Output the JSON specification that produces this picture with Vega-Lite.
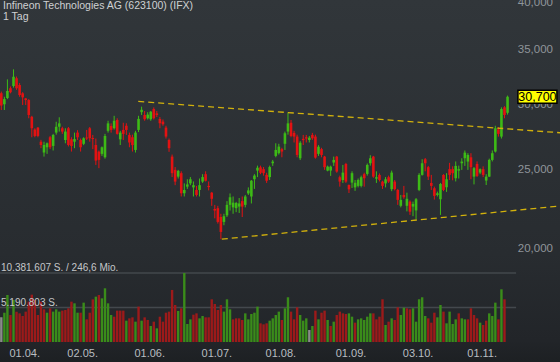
{
"$schema":"https://vega.github.io/schema/vega-lite/v6.json",
"width":560,"height":362,"autosize":{"type":"none"},"padding":0,
"background":"#1f2226",
"config":{"view":{"stroke":null},"font":"Liberation Sans","scale":{"continuousPadding":0},"locale":{"number":{"decimal":",","thousands":".","grouping":[3],"currency":[""," €"]}}},
"title":{"text":"Infineon Technologies AG (623100) (IFX)","subtitle":"1 Tag","anchor":"start","frame":"group","offset":-25.5,"dx":3,"font":"Liberation Sans","fontSize":10.5,"fontWeight":"normal","color":"#cfd1d3","subtitleFont":"Liberation Sans","subtitleFontSize":10.5,"subtitleColor":"#cfd1d3","subtitlePadding":0.5},
"datasets":{
"c":[
{"i":0,"O":31.00,"H":31.15,"L":29.58,"C":29.95,"V":3710000,"vd":"n"},
{"i":1,"O":30.06,"H":30.70,"L":29.58,"C":30.50,"V":4410000,"vd":"u"},
{"i":2,"O":30.60,"H":32.24,"L":30.50,"C":31.20,"V":7070000,"vd":"u"},
{"i":3,"O":31.44,"H":31.60,"L":31.00,"C":31.09,"V":4060000,"vd":"d"},
{"i":4,"O":31.64,"H":33.16,"L":31.50,"C":32.48,"V":6320000,"vd":"u"},
{"i":5,"O":32.34,"H":32.50,"L":31.30,"C":31.44,"V":4570000,"vd":"d"},
{"i":6,"O":31.73,"H":31.90,"L":30.70,"C":30.85,"V":4310000,"vd":"d"},
{"i":7,"O":31.00,"H":31.10,"L":30.00,"C":30.65,"V":3910000,"vd":"d"},
{"i":8,"O":30.56,"H":30.60,"L":30.00,"C":30.42,"V":4570000,"vd":"d"},
{"i":9,"O":30.42,"H":30.50,"L":28.90,"C":29.17,"V":6070000,"vd":"d"},
{"i":10,"O":29.03,"H":29.10,"L":27.40,"C":28.10,"V":7120000,"vd":"d"},
{"i":11,"O":28.00,"H":28.10,"L":27.40,"C":27.50,"V":6320000,"vd":"d"},
{"i":12,"O":28.15,"H":28.20,"L":27.40,"C":27.50,"V":4060000,"vd":"d"},
{"i":13,"O":27.06,"H":27.20,"L":26.57,"C":26.81,"V":6070000,"vd":"d"},
{"i":14,"O":26.25,"H":27.06,"L":25.95,"C":26.81,"V":4920000,"vd":"d"},
{"i":15,"O":26.64,"H":27.00,"L":26.15,"C":26.94,"V":4410000,"vd":"u"},
{"i":16,"O":27.40,"H":27.50,"L":26.50,"C":26.64,"V":5070000,"vd":"d"},
{"i":17,"O":26.74,"H":27.66,"L":26.40,"C":27.58,"V":4570000,"vd":"u"},
{"i":18,"O":27.76,"H":28.62,"L":27.60,"C":28.22,"V":4920000,"vd":"u"},
{"i":19,"O":28.22,"H":28.98,"L":27.84,"C":28.49,"V":4570000,"vd":"u"},
{"i":20,"O":28.10,"H":28.22,"L":27.66,"C":27.84,"V":4720000,"vd":"d"},
{"i":21,"O":27.19,"H":28.10,"L":26.94,"C":27.84,"V":4820000,"vd":"d"},
{"i":22,"O":28.10,"H":28.20,"L":26.70,"C":26.81,"V":5070000,"vd":"d"},
{"i":23,"O":27.24,"H":27.40,"L":26.32,"C":26.74,"V":6070000,"vd":"d"},
{"i":24,"O":27.06,"H":27.76,"L":26.57,"C":27.26,"V":5820000,"vd":"u"},
{"i":25,"O":27.76,"H":27.95,"L":27.19,"C":27.40,"V":4410000,"vd":"u"},
{"i":26,"O":27.19,"H":27.30,"L":26.32,"C":26.64,"V":4410000,"vd":"d"},
{"i":27,"O":26.90,"H":27.40,"L":26.80,"C":27.32,"V":5920000,"vd":"u"},
{"i":28,"O":27.38,"H":27.97,"L":27.19,"C":27.30,"V":3410000,"vd":"d"},
{"i":29,"O":28.10,"H":28.20,"L":27.06,"C":27.32,"V":4410000,"vd":"d"},
{"i":30,"O":27.34,"H":27.58,"L":26.50,"C":27.26,"V":6420000,"vd":"d"},
{"i":31,"O":26.81,"H":27.30,"L":25.35,"C":25.66,"V":6820000,"vd":"u"},
{"i":32,"O":26.32,"H":26.40,"L":25.12,"C":25.71,"V":7070000,"vd":"d"},
{"i":33,"O":26.15,"H":26.70,"L":26.00,"C":26.64,"V":6570000,"vd":"u"},
{"i":34,"O":25.90,"H":27.66,"L":25.80,"C":27.50,"V":8080000,"vd":"u"},
{"i":35,"O":27.90,"H":28.70,"L":27.76,"C":28.49,"V":5820000,"vd":"u"},
{"i":36,"O":28.28,"H":28.49,"L":27.76,"C":27.97,"V":4060000,"vd":"u"},
{"i":37,"O":28.10,"H":29.10,"L":28.00,"C":28.70,"V":3810000,"vd":"d"},
{"i":38,"O":28.76,"H":28.90,"L":27.60,"C":27.66,"V":4720000,"vd":"d"},
{"i":39,"O":27.24,"H":27.90,"L":26.81,"C":27.76,"V":4720000,"vd":"d"},
{"i":40,"O":27.97,"H":28.54,"L":27.19,"C":27.66,"V":4720000,"vd":"d"},
{"i":41,"O":28.30,"H":28.50,"L":27.58,"C":27.97,"V":3210000,"vd":"u"},
{"i":42,"O":27.58,"H":27.76,"L":26.64,"C":27.00,"V":3560000,"vd":"d"},
{"i":43,"O":27.40,"H":27.60,"L":26.32,"C":26.80,"V":3710000,"vd":"d"},
{"i":44,"O":26.44,"H":27.90,"L":26.25,"C":27.76,"V":3060000,"vd":"u"},
{"i":45,"O":27.97,"H":29.10,"L":27.80,"C":28.85,"V":5320000,"vd":"d"},
{"i":46,"O":29.40,"H":29.86,"L":29.17,"C":29.60,"V":3210000,"vd":"u"},
{"i":47,"O":29.17,"H":29.50,"L":28.70,"C":28.82,"V":3710000,"vd":"d"},
{"i":48,"O":28.90,"H":29.40,"L":28.80,"C":29.20,"V":3310000,"vd":"d"},
{"i":49,"O":28.82,"H":29.50,"L":28.70,"C":29.44,"V":2410000,"vd":"u"},
{"i":50,"O":29.66,"H":29.80,"L":28.80,"C":28.90,"V":3060000,"vd":"d"},
{"i":51,"O":29.30,"H":29.50,"L":29.00,"C":29.17,"V":2060000,"vd":"u"},
{"i":52,"O":28.84,"H":29.00,"L":28.10,"C":28.50,"V":3810000,"vd":"d"},
{"i":53,"O":28.63,"H":28.80,"L":28.30,"C":28.42,"V":3060000,"vd":"d"},
{"i":54,"O":28.15,"H":28.30,"L":27.30,"C":27.45,"V":4410000,"vd":"d"},
{"i":55,"O":27.19,"H":27.30,"L":26.30,"C":26.57,"V":4570000,"vd":"d"},
{"i":56,"O":25.95,"H":26.10,"L":24.50,"C":24.77,"V":7830000,"vd":"d"},
{"i":57,"O":25.00,"H":25.20,"L":23.95,"C":24.19,"V":5570000,"vd":"d"},
{"i":58,"O":24.53,"H":25.00,"L":24.40,"C":24.93,"V":4670000,"vd":"u"},
{"i":59,"O":24.77,"H":24.90,"L":23.20,"C":23.41,"V":5070000,"vd":"d"},
{"i":60,"O":23.41,"H":24.07,"L":23.20,"C":23.63,"V":10381607,"vd":"u"},
{"i":61,"O":23.85,"H":24.35,"L":23.70,"C":24.00,"V":2710000,"vd":"u"},
{"i":62,"O":24.07,"H":24.50,"L":23.95,"C":24.35,"V":3410000,"vd":"u"},
{"i":63,"O":23.80,"H":24.20,"L":23.20,"C":23.95,"V":4110000,"vd":"d"},
{"i":64,"O":23.63,"H":23.90,"L":23.20,"C":23.30,"V":4310000,"vd":"d"},
{"i":65,"O":23.63,"H":24.40,"L":23.20,"C":23.95,"V":3560000,"vd":"u"},
{"i":66,"O":24.19,"H":24.70,"L":24.10,"C":24.50,"V":3910000,"vd":"u"},
{"i":67,"O":24.70,"H":24.90,"L":24.20,"C":24.25,"V":3710000,"vd":"d"},
{"i":68,"O":23.90,"H":24.20,"L":23.60,"C":23.82,"V":3710000,"vd":"d"},
{"i":69,"O":23.45,"H":23.50,"L":22.60,"C":23.05,"V":6420000,"vd":"d"},
{"i":70,"O":22.40,"H":22.66,"L":21.82,"C":22.30,"V":5720000,"vd":"d"},
{"i":71,"O":22.45,"H":22.60,"L":21.50,"C":21.60,"V":4820000,"vd":"d"},
{"i":72,"O":21.90,"H":22.10,"L":20.58,"C":21.00,"V":5570000,"vd":"d"},
{"i":73,"O":21.60,"H":22.10,"L":21.40,"C":21.95,"V":4570000,"vd":"u"},
{"i":74,"O":22.00,"H":22.90,"L":21.90,"C":22.66,"V":6420000,"vd":"u"},
{"i":75,"O":22.66,"H":23.40,"L":22.30,"C":23.15,"V":4920000,"vd":"u"},
{"i":76,"O":22.50,"H":23.20,"L":22.10,"C":22.80,"V":3410000,"vd":"d"},
{"i":77,"O":22.45,"H":22.85,"L":22.20,"C":22.78,"V":3560000,"vd":"d"},
{"i":78,"O":22.55,"H":23.10,"L":22.15,"C":22.75,"V":3560000,"vd":"d"},
{"i":79,"O":22.90,"H":23.20,"L":21.90,"C":22.55,"V":3310000,"vd":"d"},
{"i":80,"O":22.66,"H":23.30,"L":22.50,"C":23.20,"V":4310000,"vd":"u"},
{"i":81,"O":23.40,"H":23.80,"L":23.30,"C":23.60,"V":3410000,"vd":"u"},
{"i":82,"O":23.20,"H":24.30,"L":22.75,"C":24.25,"V":4210000,"vd":"u"},
{"i":83,"O":24.35,"H":24.70,"L":23.70,"C":24.60,"V":4410000,"vd":"u"},
{"i":84,"O":24.95,"H":25.30,"L":24.50,"C":25.15,"V":5320000,"vd":"u"},
{"i":85,"O":25.18,"H":25.30,"L":24.70,"C":24.80,"V":2810000,"vd":"d"},
{"i":86,"O":25.05,"H":25.20,"L":24.60,"C":24.77,"V":2660000,"vd":"d"},
{"i":87,"O":24.65,"H":24.80,"L":24.10,"C":24.25,"V":2810000,"vd":"d"},
{"i":88,"O":24.50,"H":25.30,"L":24.30,"C":25.20,"V":3210000,"vd":"u"},
{"i":89,"O":25.47,"H":25.71,"L":25.28,"C":25.59,"V":3560000,"vd":"u"},
{"i":90,"O":26.00,"H":26.94,"L":25.90,"C":26.44,"V":4060000,"vd":"u"},
{"i":91,"O":26.20,"H":26.90,"L":26.10,"C":26.69,"V":4570000,"vd":"u"},
{"i":92,"O":26.50,"H":26.60,"L":25.90,"C":26.32,"V":3310000,"vd":"d"},
{"i":93,"O":26.90,"H":27.84,"L":26.44,"C":27.71,"V":5070000,"vd":"u"},
{"i":94,"O":27.84,"H":29.36,"L":27.60,"C":28.49,"V":6730000,"vd":"u"},
{"i":95,"O":28.54,"H":28.76,"L":27.40,"C":27.50,"V":4570000,"vd":"d"},
{"i":96,"O":27.74,"H":27.90,"L":27.00,"C":27.45,"V":3410000,"vd":"d"},
{"i":97,"O":27.45,"H":27.60,"L":25.90,"C":26.07,"V":5220000,"vd":"d"},
{"i":98,"O":25.83,"H":27.10,"L":25.70,"C":26.98,"V":4060000,"vd":"u"},
{"i":99,"O":27.28,"H":27.58,"L":26.81,"C":27.18,"V":3210000,"vd":"u"},
{"i":100,"O":27.40,"H":27.58,"L":27.00,"C":27.30,"V":3560000,"vd":"u"},
{"i":101,"O":27.19,"H":27.50,"L":27.00,"C":27.37,"V":1810000,"vd":"n"},
{"i":102,"O":27.58,"H":27.74,"L":27.20,"C":27.32,"V":2410000,"vd":"u"},
{"i":103,"O":27.45,"H":27.60,"L":25.80,"C":25.88,"V":4720000,"vd":"d"},
{"i":104,"O":26.15,"H":26.80,"L":26.00,"C":26.68,"V":3410000,"vd":"u"},
{"i":105,"O":26.50,"H":26.60,"L":25.90,"C":26.07,"V":4410000,"vd":"d"},
{"i":106,"O":25.95,"H":26.00,"L":25.00,"C":25.19,"V":4720000,"vd":"d"},
{"i":107,"O":24.95,"H":25.30,"L":24.90,"C":25.23,"V":3310000,"vd":"u"},
{"i":108,"O":24.95,"H":25.30,"L":24.58,"C":25.23,"V":2410000,"vd":"d"},
{"i":109,"O":25.52,"H":25.95,"L":25.28,"C":25.71,"V":3060000,"vd":"u"},
{"i":110,"O":25.95,"H":26.00,"L":24.80,"C":24.88,"V":4060000,"vd":"d"},
{"i":111,"O":24.49,"H":24.60,"L":23.85,"C":24.19,"V":4570000,"vd":"d"},
{"i":112,"O":24.30,"H":25.35,"L":24.10,"C":24.81,"V":4310000,"vd":"d"},
{"i":113,"O":25.42,"H":25.50,"L":24.10,"C":24.19,"V":4210000,"vd":"d"},
{"i":114,"O":23.96,"H":24.00,"L":23.43,"C":23.67,"V":4310000,"vd":"u"},
{"i":115,"O":24.12,"H":24.90,"L":23.76,"C":24.77,"V":3810000,"vd":"u"},
{"i":116,"O":23.80,"H":24.30,"L":23.57,"C":24.11,"V":2910000,"vd":"d"},
{"i":117,"O":23.90,"H":24.40,"L":23.80,"C":24.30,"V":3410000,"vd":"u"},
{"i":118,"O":23.90,"H":24.60,"L":23.80,"C":24.49,"V":3560000,"vd":"u"},
{"i":119,"O":24.70,"H":24.80,"L":23.85,"C":24.42,"V":3310000,"vd":"u"},
{"i":120,"O":24.72,"H":25.45,"L":24.60,"C":25.35,"V":3810000,"vd":"u"},
{"i":121,"O":25.47,"H":26.05,"L":25.30,"C":25.83,"V":4310000,"vd":"u"},
{"i":122,"O":25.95,"H":26.00,"L":24.45,"C":24.53,"V":4310000,"vd":"d"},
{"i":123,"O":24.39,"H":24.90,"L":24.10,"C":24.49,"V":3410000,"vd":"d"},
{"i":124,"O":24.65,"H":24.75,"L":24.20,"C":24.30,"V":3810000,"vd":"d"},
{"i":125,"O":24.19,"H":24.25,"L":23.70,"C":23.90,"V":6430000,"vd":"d"},
{"i":126,"O":24.07,"H":24.50,"L":23.80,"C":24.35,"V":2560000,"vd":"u"},
{"i":127,"O":24.49,"H":24.60,"L":24.10,"C":24.19,"V":3060000,"vd":"d"},
{"i":128,"O":23.68,"H":24.95,"L":23.55,"C":24.81,"V":3560000,"vd":"u"},
{"i":129,"O":24.19,"H":24.30,"L":23.60,"C":23.68,"V":3310000,"vd":"d"},
{"i":130,"O":23.63,"H":23.70,"L":22.66,"C":22.98,"V":5220000,"vd":"d"},
{"i":131,"O":22.60,"H":23.30,"L":22.50,"C":22.98,"V":4060000,"vd":"u"},
{"i":132,"O":23.30,"H":23.90,"L":23.05,"C":23.15,"V":5170000,"vd":"u"},
{"i":133,"O":22.60,"H":23.45,"L":22.25,"C":23.05,"V":5070000,"vd":"d"},
{"i":134,"O":22.87,"H":22.95,"L":22.03,"C":22.23,"V":4920000,"vd":"d"},
{"i":135,"O":22.55,"H":22.87,"L":21.95,"C":22.72,"V":5070000,"vd":"u"},
{"i":136,"O":22.31,"H":23.10,"L":21.77,"C":23.02,"V":3060000,"vd":"u"},
{"i":137,"O":23.63,"H":24.77,"L":23.55,"C":24.65,"V":6430000,"vd":"u"},
{"i":138,"O":24.65,"H":25.76,"L":24.60,"C":25.47,"V":6730000,"vd":"u"},
{"i":139,"O":25.76,"H":25.85,"L":24.90,"C":25.47,"V":3910000,"vd":"u"},
{"i":140,"O":25.19,"H":25.28,"L":24.30,"C":24.53,"V":3560000,"vd":"d"},
{"i":141,"O":24.10,"H":24.65,"L":23.63,"C":23.90,"V":2910000,"vd":"d"},
{"i":142,"O":23.74,"H":23.85,"L":23.00,"C":23.24,"V":4410000,"vd":"d"},
{"i":143,"O":23.30,"H":23.52,"L":23.20,"C":23.41,"V":3710000,"vd":"u"},
{"i":144,"O":23.02,"H":24.10,"L":22.03,"C":24.03,"V":5570000,"vd":"u"},
{"i":145,"O":24.65,"H":24.70,"L":23.55,"C":23.63,"V":4570000,"vd":"d"},
{"i":146,"O":23.81,"H":24.77,"L":23.50,"C":24.35,"V":2810000,"vd":"u"},
{"i":147,"O":25.05,"H":25.50,"L":24.30,"C":24.65,"V":4570000,"vd":"u"},
{"i":148,"O":25.05,"H":25.25,"L":24.28,"C":24.77,"V":2710000,"vd":"u"},
{"i":149,"O":24.42,"H":25.60,"L":24.20,"C":25.28,"V":3410000,"vd":"u"},
{"i":150,"O":24.95,"H":25.30,"L":24.40,"C":25.05,"V":4310000,"vd":"d"},
{"i":151,"O":25.47,"H":25.83,"L":25.00,"C":25.59,"V":3560000,"vd":"u"},
{"i":152,"O":25.83,"H":26.40,"L":25.28,"C":26.24,"V":3410000,"vd":"u"},
{"i":153,"O":25.59,"H":26.20,"L":25.00,"C":26.07,"V":3410000,"vd":"d"},
{"i":154,"O":25.90,"H":26.20,"L":24.35,"C":25.19,"V":5070000,"vd":"d"},
{"i":155,"O":24.53,"H":25.20,"L":24.00,"C":25.12,"V":4060000,"vd":"d"},
{"i":156,"O":25.42,"H":25.60,"L":24.50,"C":24.58,"V":3560000,"vd":"d"},
{"i":157,"O":24.81,"H":25.10,"L":24.70,"C":25.05,"V":2910000,"vd":"u"},
{"i":158,"O":25.05,"H":25.25,"L":24.50,"C":24.65,"V":2560000,"vd":"d"},
{"i":159,"O":24.26,"H":24.70,"L":23.96,"C":24.53,"V":3210000,"vd":"d"},
{"i":160,"O":24.53,"H":25.80,"L":24.50,"C":25.71,"V":4310000,"vd":"u"},
{"i":161,"O":25.71,"H":26.40,"L":25.60,"C":26.20,"V":3910000,"vd":"u"},
{"i":162,"O":26.32,"H":28.30,"L":26.25,"C":28.10,"V":5920000,"vd":"u"},
{"i":163,"O":28.02,"H":28.20,"L":27.45,"C":27.66,"V":3410000,"vd":"d"},
{"i":164,"O":27.45,"H":29.80,"L":27.30,"C":29.66,"V":7930000,"vd":"u"},
{"i":165,"O":29.80,"H":29.90,"L":28.90,"C":29.17,"V":6430000,"vd":"d"},
{"i":166,"O":29.35,"H":30.80,"L":29.20,"C":30.70,"V":null,"vd":"u"}
],
"trend":[
{"i":44.9,"p":30.30,"g":"a"},{"i":183.2,"p":27.75,"g":"a"},
{"i":72.3,"p":20.58,"g":"b"},{"i":183.2,"p":22.59,"g":"b"}
],
"pticks":[{"p":20},{"p":25},{"p":30},{"p":35},{"p":40}],
"dates":[{"i":8,"t":"01.04."},{"i":27,"t":"02.05."},{"i":49,"t":"01.06."},{"i":71,"t":"01.07."},{"i":92,"t":"01.08."},{"i":115,"t":"01.09."},{"i":137,"t":"03.10."},{"i":158,"t":"01.11."}],
"grid":[{"v":10381607,"t":"10.381.607 S. / 246,6 Mio."},{"v":5190803,"t":"5.190.803 S."}]
},
"data":{"name":"c"},
"layer":[
{"data":{"values":[{}]},"mark":{"type":"rect","fill":{"gradient":"linear","x1":0,"y1":0,"x2":0,"y2":1,"stops":[{"offset":0,"color":"#31363a"},{"offset":0.7,"color":"#282c30"},{"offset":0.94,"color":"#222529"},{"offset":1,"color":"#1d2023"}]}},"encoding":{}},
{"layer":[
 {"mark":{"type":"rule","strokeWidth":1},
  "encoding":{
   "x":{"field":"i","type":"quantitative","scale":{"domain":[-0.43,183.2],"nice":false,"zero":false,"padding":0},"axis":null},
   "y":{"field":"L","type":"quantitative","scale":{"type":"log","domain":[19.3,40.29],"range":[262,0],"nice":false,"zero":false,"padding":0},"axis":null},
   "y2":{"field":"H"},
   "color":{"condition":{"test":"datum.C >= datum.O","value":"#3dba16"},"value":"#e31212"}}},
 {"mark":{"type":"bar","size":2.6},
  "encoding":{
   "x":{"field":"i","type":"quantitative","scale":{"domain":[-0.43,183.2],"nice":false,"zero":false,"padding":0},"axis":null},
   "y":{"field":"O","type":"quantitative","axis":null},
   "y2":{"field":"C"},
   "color":{"condition":{"test":"datum.C >= datum.O","value":"#3dba16"},"value":"#e31212"}}},
 {"data":{"name":"trend"},"mark":{"type":"line","strokeDash":[6,4],"strokeWidth":1.3,"color":"#d2b10c","clip":false},
  "encoding":{
   "x":{"field":"i","type":"quantitative","scale":{"domain":[-0.43,183.2],"nice":false,"zero":false,"padding":0},"axis":null},
   "y":{"field":"p","type":"quantitative","axis":null},
   "detail":{"field":"g"}}},
 {"data":{"name":"pticks"},"mark":{"type":"text","align":"right","baseline":"middle","dx":-7,"fontSize":11.5,"font":"Liberation Sans","color":"#8f959a"},
  "encoding":{
   "x":{"datum":183.2,"type":"quantitative","scale":{"domain":[-0.43,183.2],"nice":false,"zero":false,"padding":0},"axis":null},
   "y":{"field":"p","type":"quantitative","axis":null},
   "text":{"field":"p","type":"quantitative","format":".3f"}}},
 {"transform":[{"filter":"datum.i == 166"}],
  "mark":{"type":"point","shape":"M-1,-0.333H1V0.333H-1Z","size":1521,"filled":true,"fill":"#ffff00","stroke":"#000000","strokeWidth":1.5,"opacity":1},
  "encoding":{"x":{"datum":175.8,"type":"quantitative","scale":{"domain":[-0.43,183.2],"nice":false,"zero":false,"padding":0},"axis":null},"y":{"field":"C","type":"quantitative","axis":null}}},
 {"transform":[{"filter":"datum.i == 166"}],
  "mark":{"type":"text","color":"#000000","fontSize":12.5,"font":"Liberation Sans","align":"center","baseline":"middle","dy":0.5},
  "encoding":{"x":{"datum":175.8,"type":"quantitative","scale":{"domain":[-0.43,183.2],"nice":false,"zero":false,"padding":0},"axis":null},"y":{"field":"C","type":"quantitative","axis":null},"text":{"field":"C","type":"quantitative","format":".3f"}}}
]},
{"layer":[
 {"data":{"name":"grid"},"mark":{"type":"rule","color":"#43484d","strokeWidth":1.5},
  "encoding":{"x":{"datum":-0.43,"type":"quantitative","scale":{"domain":[-0.43,183.2],"nice":false,"zero":false,"padding":0},"axis":null},"x2":{"datum":168.8},"y":{"field":"v","type":"quantitative","axis":null,"scale":{"domain":[0,10381607],"range":[342,273],"nice":false,"zero":true,"padding":0}}}},
 {"mark":{"type":"bar","size":2.4},
  "encoding":{
   "x":{"field":"i","type":"quantitative","scale":{"domain":[-0.43,183.2],"nice":false,"zero":false,"padding":0},"axis":null},
   "y":{"field":"V","type":"quantitative","axis":null},
   "color":{"field":"vd","type":"nominal","scale":{"domain":["u","d","n"],"range":["#3a8c1a","#9c1a1a","#8a8a8a"]},"legend":null}}},
 {"data":{"name":"grid"},"mark":{"type":"text","align":"left","baseline":"alphabetic","dx":1,"dy":-2,"fontSize":10,"font":"Liberation Sans","color":"#c5c7c9"},
  "encoding":{"x":{"datum":-0.43,"type":"quantitative","scale":{"domain":[-0.43,183.2],"nice":false,"zero":false,"padding":0},"axis":null},"y":{"field":"v","type":"quantitative","axis":null},"text":{"field":"t","type":"nominal"}}},
 {"data":{"name":"dates"},"mark":{"type":"text","align":"center","baseline":"middle","dx":-1,"fontSize":11,"font":"Liberation Sans","color":"#b9bdc1"},
  "encoding":{"x":{"field":"i","type":"quantitative","scale":{"domain":[-0.43,183.2],"nice":false,"zero":false,"padding":0},"axis":null},"y":{"datum":-1880000,"type":"quantitative","axis":null},"text":{"field":"t","type":"nominal"}}}
]}
],
"resolve":{"scale":{"y":"independent"}}
}
